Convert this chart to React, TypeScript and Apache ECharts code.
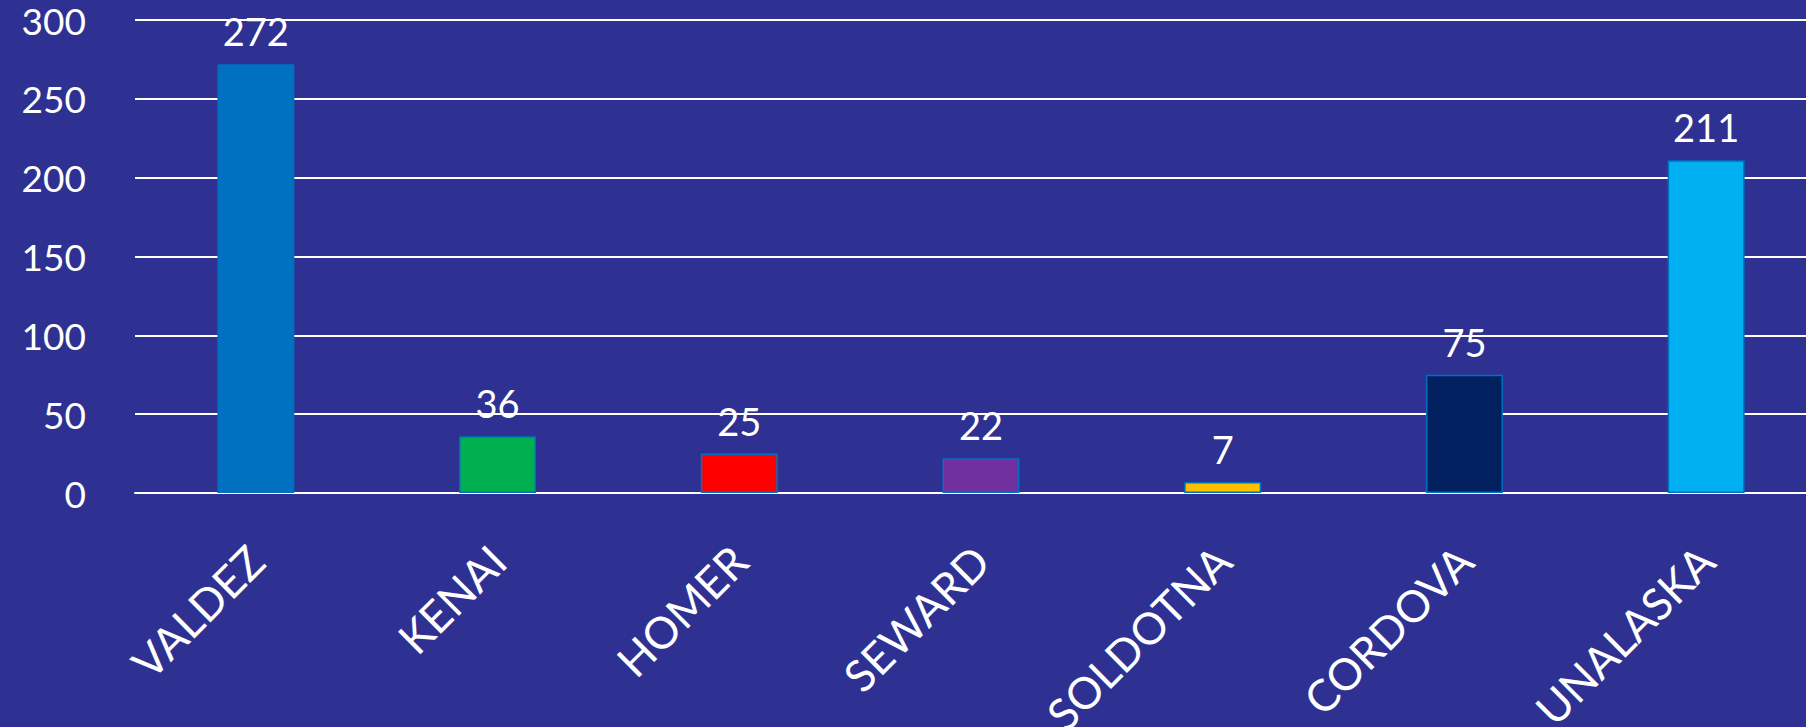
import React, { useEffect, useRef } from "react";
import * as echarts from "echarts";

const categories = ["VALDEZ", "KENAI", "HOMER", "SEWARD", "SOLDOTNA", "CORDOVA", "UNALASKA"];
const values = [272, 36, 25, 22, 7, 75, 211];
const barColors = ["#0070C0", "#00B050", "#FF0000", "#7030A0", "#FFC000", "#002060", "#00B0F0"];
const yTicks = { min: 0, max: 300, interval: 50 };

export default function App() {
  const ref = useRef<HTMLDivElement>(null);
  useEffect(() => {
    if (!ref.current) return;
    const chart = echarts.init(ref.current, undefined, { renderer: "svg" });
    const font = "Lato";
    chart.setOption({
      animation: false,
      backgroundColor: "#2E3192",
      grid: { left: 135, top: 20, bottom: 234, right: 0, containLabel: false, outerBoundsMode: "none" },
      xAxis: {
        type: "category",
        data: categories,
        axisLine: { show: true, lineStyle: { color: "#FFFFFF", width: 2 } },
        axisTick: { show: false },
        axisLabel: {
          color: "#FFFFFF",
          fontFamily: font,
          fontSize: 44,
          rotate: 45,
          margin: 60,
          interval: 0,
        },
      },
      yAxis: {
        type: "value",
        min: yTicks.min,
        max: yTicks.max,
        interval: yTicks.interval,
        axisLine: { show: false },
        axisTick: { show: false },
        splitLine: { show: true, lineStyle: { color: "#FFFFFF", width: 2 } },
        axisLabel: { color: "#FFFFFF", fontFamily: font, fontSize: 37, margin: 49 },
      },
      series: [
        {
          type: "bar",
          barWidth: 77,
          data: values.map((v, i) => ({
            value: v,
            itemStyle: { color: barColors[i], borderColor: "#0070C0", borderWidth: 1.5 },
          })),
          label: {
            show: true,
            position: "top",
            distance: 14,
            color: "#FFFFFF",
            fontFamily: font,
            fontSize: 38,
          },
        },
      ],
    });
    return () => chart.dispose();
  }, []);
  return (
    <div style={{ position: "fixed", left: 0, top: 0, width: 1806, height: 727, overflow: "hidden" }}>
      <div ref={ref} style={{ width: 1827, height: 727 }} />
    </div>
  );
}
